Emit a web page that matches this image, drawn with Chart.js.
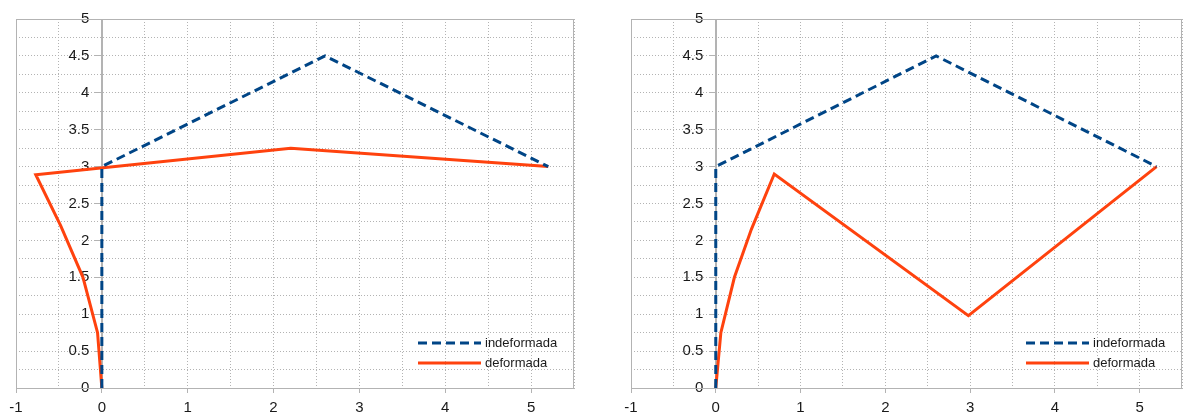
<!DOCTYPE html>
<html>
<head>
<meta charset="utf-8">
<script src="https://cdn.jsdelivr.net/npm/chart.js@4"></script>
<style>
html, body { margin: 0; padding: 0; overflow: hidden; background: #fff; }
.box { position: absolute; top: 0; height: 427px; }
#left { left: 0; width: 595px; }
#right { left: 595px; width: 594px; }
</style>
</head>
<body>
<div class="box" id="left"><canvas id="chart1"></canvas></div>
<div class="box" id="right"><canvas id="chart2"></canvas></div>
<script>
// series labels
var seriesNames = ['indeformada', 'deformada'];

// undeformed frame (same in both charts)
var undefX = [0, 0, 2.6, 5.2];
var undefY = [0, 3, 4.5, 3];

// deformed frame, left chart
var def1X = [0, -0.05, -0.22, -0.48, -0.77, 2.2, 5.2];
var def1Y = [0, 0.75, 1.5, 2.2, 2.89, 3.25, 3.0];

// deformed frame, right chart
var def2X = [0, 0.06, 0.22, 0.42, 0.69, 2.98, 5.2];
var def2Y = [0, 0.75, 1.5, 2.15, 2.9, 0.98, 3.0];

// axis ranges
var xMin = -1, xMax = 5.5, xStep = 0.5;
var yMin = 0, yMax = 5, yStep = 0.25;

var gridGray = '#b3b3b3';
var textCol = '#1a1a1a';
var fontFam = '"Liberation Sans", Arial, sans-serif';

function pts(xs, ys) {
    return xs.map(function (x, i) { return { x: x, y: ys[i] }; });
}

function isMultiple(v, m) {
    return Math.abs(v / m - Math.round(v / m)) < 1e-6;
}

// frame around the plot area + solid y axis line at x = 0
var frame = {
    id: 'frame',
    beforeDatasetsDraw: function (chart) {
        var a = chart.chartArea, c = chart.ctx;
        c.save();
        c.strokeStyle = gridGray;
        c.lineWidth = 1;
        c.setLineDash([]);
        c.strokeRect(Math.round(a.left) + 0.5, Math.round(a.top) + 0.5,
            Math.round(a.right - a.left) - 1, Math.round(a.bottom - a.top));
        var x0 = Math.round(chart.scales.x.getPixelForValue(0)) + 0.5;
        c.beginPath();
        c.moveTo(x0, a.top);
        c.lineTo(x0, a.bottom);
        c.stroke();
        c.restore();
    }
};

// legend inside the plot, bottom right
var innerLegend = {
    id: 'innerLegend',
    afterDatasetsDraw: function (chart) {
        var a = chart.chartArea, c = chart.ctx;
        c.save();
        chart.data.datasets.forEach(function (ds, i) {
            var y = Math.round(a.bottom - 45 + i * 20);
            c.strokeStyle = ds.borderColor;
            c.lineWidth = ds.borderWidth;
            c.setLineDash(ds.borderDash || []);
            c.beginPath();
            c.moveTo(a.right - 156, y);
            c.lineTo(a.right - 93, y);
            c.stroke();
            c.setLineDash([]);
            c.fillStyle = textCol;
            c.font = '13px ' + fontFam;
            c.textBaseline = 'middle';
            c.fillText(ds.label, a.right - 89, y);
        });
        c.restore();
    }
};

function makeChart(id, defX, defY, padLeft, padRight) {
    return new Chart(document.getElementById(id), {
        type: 'scatter',
        data: {
            datasets: [{
                label: seriesNames[0],
                data: pts(undefX, undefY),
                showLine: true,
                borderColor: '#004586',
                borderWidth: 3,
                borderDash: [9, 5],
                pointRadius: 0,
                tension: 0
            }, {
                label: seriesNames[1],
                data: pts(defX, defY),
                showLine: true,
                borderColor: '#ff420e',
                borderWidth: 3,
                pointRadius: 0,
                tension: 0
            }]
        },
        options: {
            responsive: true,
            maintainAspectRatio: false,
            animation: false,
            layout: { padding: { left: padLeft, right: padRight, top: 19, bottom: 5 } },
            plugins: { legend: { display: false }, tooltip: { enabled: false } },
            scales: {
                x: {
                    type: 'linear',
                    position: 'bottom',
                    min: xMin, max: xMax,
                    grid: {
                        color: gridGray,
                        tickLength: 5,
                        tickColor: function (ctx) {
                            return isMultiple(ctx.tick.value, 1) && ctx.tick.value < xMax ? gridGray : 'rgba(0,0,0,0)';
                        }
                    },
                    border: { color: gridGray, dash: [1, 2] },
                    ticks: {
                        stepSize: xStep,
                        autoSkip: false,
                        maxRotation: 0,
                        padding: 7,
                        color: textCol,
                        font: { family: fontFam, size: 15, lineHeight: 1 },
                        callback: function (v) {
                            return isMultiple(v, 1) && v < xMax ? String(Math.round(v)) : '';
                        }
                    }
                },
                y: {
                    type: 'linear',
                    position: { x: 0 },
                    min: yMin, max: yMax,
                    grid: {
                        color: gridGray,
                        tickLength: 6,
                        tickColor: function (ctx) {
                            return isMultiple(ctx.tick.value, 0.5) ? gridGray : 'rgba(0,0,0,0)';
                        }
                    },
                    border: { color: gridGray, dash: [1, 2] },
                    ticks: {
                        stepSize: yStep,
                        autoSkip: false,
                        color: textCol,
                        font: { family: fontFam, size: 15 },
                        // trailing spaces keep the label clear of the axis line
                        callback: function (v) {
                            return isMultiple(v, 0.5) ? String(Math.round(v * 10) / 10) + '   ' : '';
                        }
                    }
                }
            }
        },
        plugins: [frame, innerLegend]
    });
}

makeChart('chart1', def1X, def1Y, 16, 21);
makeChart('chart2', def2X, def2Y, 36, 1);
</script>
</body>
</html>
